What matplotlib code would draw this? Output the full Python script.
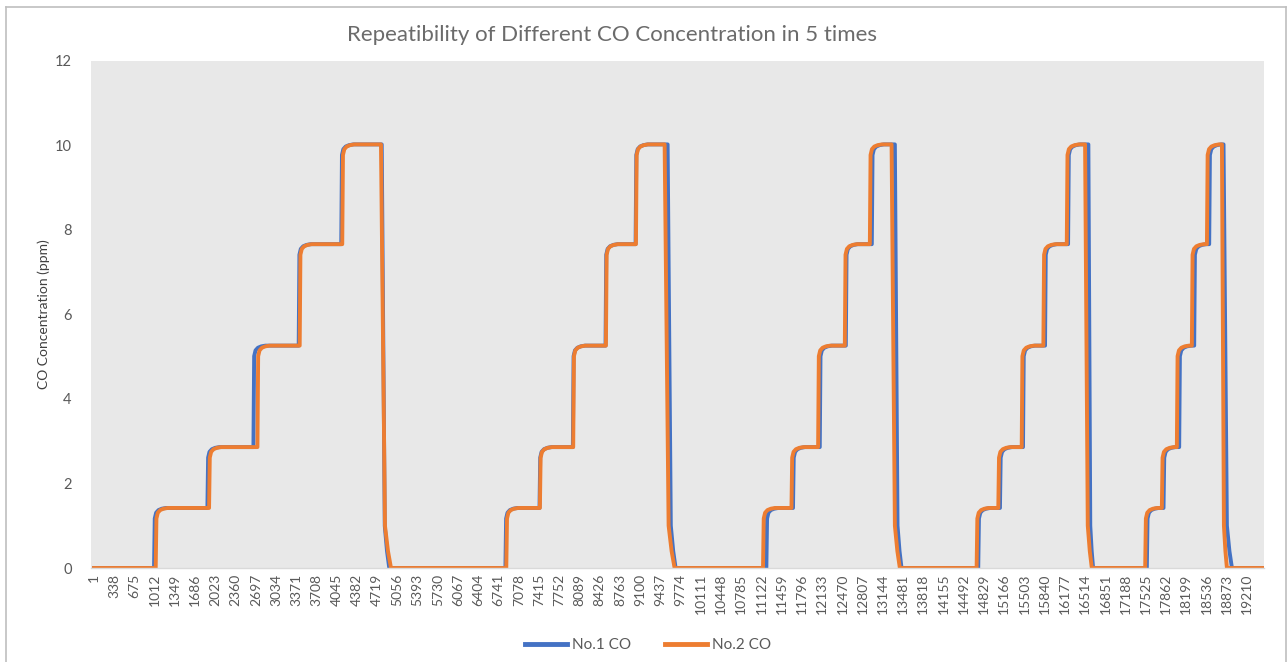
import matplotlib
matplotlib.use("Agg")
import matplotlib.pyplot as plt
from matplotlib.lines import Line2D
import numpy as np

# step levels (ppm) of each cycle
levels = [1.42, 2.86, 5.26, 7.66, 10.02]

# sample index where each step rise starts, per cycle (No.1 CO)
rises_no1 = [
    [1001, 1890, 2657, 3411, 4120],
    [6855, 7423, 7979, 8523, 9024],
    [11203, 11647, 12093, 12527, 12960],
    [14733, 15095, 15479, 15846, 16230],
    [17542, 17820, 18081, 18331, 18581],
]
drops_no1 = [4795, 9558, 13344, 16568, 18820]
ends_no1 = [4920, 9691, 13455, 16647, 18960]

# No.2 CO
rises_no2 = [
    [1029, 1918, 2724, 3428, 4137],
    [6870, 7430, 7985, 8530, 9030],
    [11147, 11621, 12065, 12510, 12927],
    [14706, 15067, 15457, 15818, 16208],
    [17514, 17792, 18042, 18292, 18543],
]
drops_no2 = [4782, 9508, 13289, 16513, 18793]
ends_no2 = [4949, 9674, 13427, 16625, 18876]

n_samples = 19500
x_tick_labels = list(range(1, 19211, 337))

# rounded-corner shape used when a step settles (index offset, fraction of gap left)
corner_dx = [12, 35, 75, 130, 200]
corner_fr = [1.0, 0.45, 0.2, 0.07, 0.0]
corner_gap = 0.25


def build_trace(rises, drops, ends):
    xs, ys = [1], [0.0]
    for cyc, drop, end in zip(rises, drops, ends):
        prev = 0.0
        for t, lvl in zip(cyc, levels):
            xs.append(t)
            ys.append(prev)
            for dx, fr in zip(corner_dx, corner_fr):
                xs.append(t + dx)
                ys.append(lvl - corner_gap * fr)
            prev = lvl
        span = end - drop
        xs += [drop, drop + 0.4 * span, drop + 0.7 * span, end]
        ys += [levels[-1], 1.0, 0.4, 0.0]
    xs.append(n_samples)
    ys.append(0.0)
    return xs, ys


x1, y1 = build_trace(rises_no1, drops_no1, ends_no1)
x2, y2 = build_trace(rises_no2, drops_no2, ends_no2)

plt.rcParams['font.family'] = ['Lato', 'DejaVu Sans']
txt = '#595959'

fig = plt.figure(figsize=(12.88, 6.62), dpi=100)
ax = fig.add_axes([91 / 1288, 1 - 568 / 662, (1264 - 91) / 1288, (568 - 60.7) / 662])
ax.set_facecolor('#E8E8E8')

ax.plot(x1, y1, color='#4472C4', lw=2.8, solid_joinstyle='round')
ax.plot(x2, y2, color='#ED7D31', lw=2.8, solid_joinstyle='round')

ax.set_xlim(-49, 19494)
ax.set_ylim(0, 12)
ax.set_yticks(range(0, 13, 2))
ax.set_xticks(x_tick_labels)
ax.set_xticklabels([str(v) for v in x_tick_labels], rotation=90)
ax.tick_params(axis='x', length=0, labelsize=10, colors=txt, pad=4)
ax.tick_params(axis='y', length=0, labelsize=10.5, colors=txt, pad=14)

for s in ['top', 'right', 'left']:
    ax.spines[s].set_visible(False)
ax.spines['bottom'].set_color('#D9D9D9')
ax.spines['bottom'].set_linewidth(1)

ax.set_ylabel('CO Concentration (ppm)', fontsize=10, color='#404040', labelpad=3)
fig.text(0.475, 1 - 35 / 662, 'Repeatibility of Different CO Concentration in 5 times',
         ha='center', va='center', fontsize=16, color='#6b6b6b')

handles = [Line2D([], [], color='#4472C4', lw=3.5), Line2D([], [], color='#ED7D31', lw=3.5)]
fig.legend(handles, ['No.1 CO', 'No.2 CO'], loc='center', bbox_to_anchor=(0.503, 1 - 645 / 662),
           ncol=2, frameon=False, fontsize=11, labelcolor=txt, handlelength=2.8,
           handletextpad=0.3, columnspacing=2.2)

# chart border
border = dict(color='#BFBFBF', lw=1.2, transform=fig.transFigure)
fig.add_artist(Line2D([6 / 1288, 6 / 1288], [0, 1 - 7 / 662], **border))
fig.add_artist(Line2D([6 / 1288, 1286 / 1288], [1 - 7 / 662, 1 - 7 / 662], **border))
fig.add_artist(Line2D([1286 / 1288, 1286 / 1288], [0, 1 - 7 / 662], **border))

fig.savefig('out.png', dpi=100)
